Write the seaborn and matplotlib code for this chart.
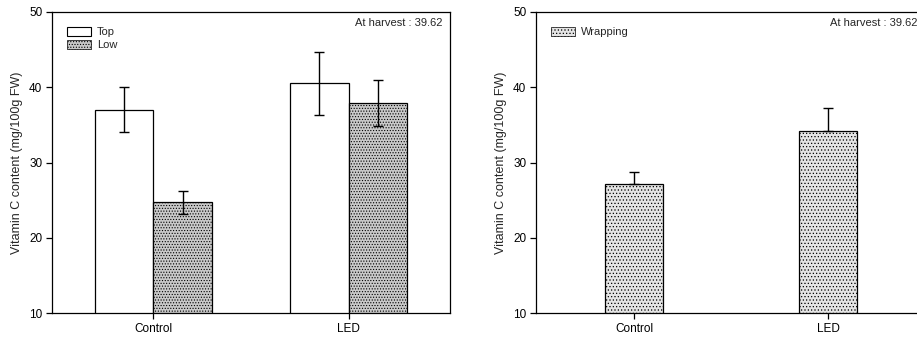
import matplotlib
matplotlib.use('Agg')
import matplotlib.pyplot as plt
from matplotlib.patches import Patch
import seaborn as sns
import pandas as pd

categories = ['Control', 'LED']
positions = ['Top', 'Low']
top_values = [37.0, 40.5]
low_values = [24.7, 37.9]
top_err = [3.0, 4.2]
low_err = [1.5, 3.0]
wrap_label = 'Wrapping'
wrap_values = [27.1, 34.2]
wrap_err = [1.7, 3.0]
harvest_label = 'At harvest : 39.62'
ylabel = 'Vitamin C content (mg/100g FW)'
yticks = [10, 20, 30, 40, 50]

sns.set_theme(style='ticks')
plt.rcParams['font.family'] = ['Liberation Sans', 'DejaVu Sans']
plt.rcParams['hatch.linewidth'] = 0.5
plt.rcParams['hatch.color'] = '#3a3a3a'

W, H = 917, 338
fig = plt.figure(figsize=(W / 100, H / 100), dpi=100)
ax1 = fig.add_axes([52 / W, 1 - 313 / H, 398 / W, 301 / H])
ax2 = fig.add_axes([536 / W, 1 - 313 / H, 388 / W, 301 / H])

low_face = '#c9c9c9'
wrap_face = '#e4e4e4'
low_hatch = '......'
wrap_hatch = '.....'

# Left panel
df1 = pd.DataFrame({
    'Category': categories * 2,
    'Position': [positions[0]] * 2 + [positions[1]] * 2,
    'Value': top_values + low_values,
})
sns.barplot(data=df1, x='Category', y='Value', hue='Position', hue_order=positions,
            palette=['white', low_face], edgecolor='black', linewidth=0.9,
            width=0.6, errorbar=None, legend=False, ax=ax1)
bars = list(ax1.patches)
for p in bars[2:4]:
    p.set_hatch(low_hatch)
errs = top_err + low_err
xs = [p.get_x() + p.get_width() / 2 for p in bars[:4]]
hs = [p.get_height() for p in bars[:4]]
ax1.errorbar(xs, hs, yerr=errs, fmt='none', ecolor='black', elinewidth=1.0,
             capsize=3.5, capthick=1.0)
ax1.legend(handles=[Patch(facecolor='white', edgecolor='black', linewidth=0.8, label='Top'),
                    Patch(facecolor=low_face, edgecolor='black', linewidth=0.5,
                          hatch=low_hatch, label='Low')],
           loc='upper left', bbox_to_anchor=(0.012, 0.985), frameon=False, fontsize=8,
           handlelength=2.2, handleheight=0.9, labelspacing=0.25, handletextpad=0.5)
ax1.text(0.982, 0.962, harvest_label, transform=ax1.transAxes, ha='right', va='center',
         fontsize=8)

# Right panel
df2 = pd.DataFrame({'Category': categories, 'Value': wrap_values})
sns.barplot(data=df2, x='Category', y='Value', color=wrap_face, edgecolor='black',
            linewidth=0.9, width=0.3, errorbar=None, ax=ax2)
bars2 = list(ax2.patches)
for p in bars2:
    p.set_hatch(wrap_hatch)
xs2 = [p.get_x() + p.get_width() / 2 for p in bars2]
hs2 = [p.get_height() for p in bars2]
ax2.errorbar(xs2, hs2, yerr=[[0] * len(wrap_err), wrap_err], fmt='none', ecolor='black',
             elinewidth=1.0, capsize=3.5, capthick=1.0)
ax2.legend(handles=[Patch(facecolor=wrap_face, edgecolor='black', linewidth=0.5,
                          hatch=wrap_hatch, label=wrap_label)],
           loc='upper left', bbox_to_anchor=(0.012, 0.985), frameon=False, fontsize=8,
           handlelength=2.2, handleheight=0.9, handletextpad=0.5)
ax2.text(0.982, 0.962, harvest_label, transform=ax2.transAxes, ha='right', va='center',
         fontsize=8)

for ax, xl in ((ax1, (-0.52, 1.52)), (ax2, (-0.505, 1.495))):
    ax.set_ylim(10, 50)
    ax.set_yticks(yticks)
    ax.set_xlim(*xl)
    ax.set_xlabel('')
    ax.set_ylabel(ylabel, fontsize=9)
    ax.tick_params(axis='both', direction='out', length=4, width=0.9, labelsize=8.5,
                   colors='black', pad=3)
    for s in ax.spines.values():
        s.set_visible(True)
        s.set_linewidth(0.9)
        s.set_color('black')
    ax.set_facecolor('white')

fig.savefig('out.png', dpi=100)
